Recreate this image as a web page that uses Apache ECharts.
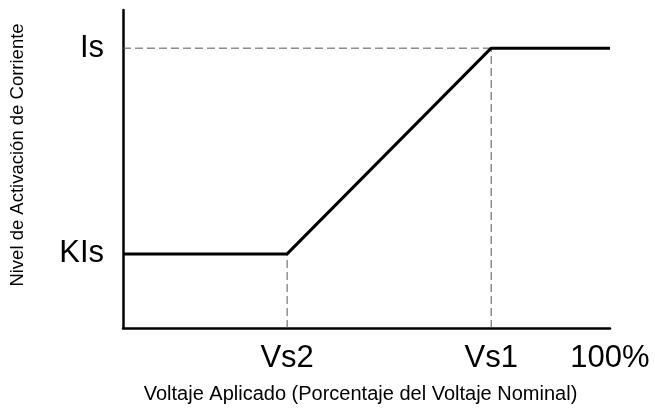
<!DOCTYPE html>
<html><head><meta charset="utf-8">
<script src="https://cdn.jsdelivr.net/npm/echarts@6/dist/echarts.min.js"></script>
<style>html,body{margin:0;padding:0;background:#fff}#c{width:655px;height:410px}</style>
</head><body><div id="c"></div>
<script>
// Data (percent of nominal voltage on x; relative pickup level on y)
const xTickValues = [33.7, 75.6, 100];
const xTickLabels = ['Vs2', 'Vs1', '100%'];
const yTickValues = [23.3, 88];
const yTickLabels = ['KIs', 'Is'];
const curveX = [0, 33.7, 75.6, 100];
const curveY = [23.3, 23.3, 88, 88];
const xName = 'Voltaje Aplicado (Porcentaje del Voltaje Nominal)';
const yName = 'Nivel de Activación de Corriente';

const curve = curveX.map((x, i) => [x, curveY[i]]);
const dashed = [
  [[0, yTickValues[1]], [xTickValues[1], yTickValues[1]]],
  [[xTickValues[0], 0], [xTickValues[0], yTickValues[0]]],
  [[xTickValues[1], 0], [xTickValues[1], yTickValues[1]]]
];
const font = 'Liberation Sans, Arial, sans-serif';
const chart = echarts.init(document.getElementById('c'), null, {renderer: 'canvas'});
const series = dashed.map(seg => ({
  type: 'line', data: seg, symbol: 'none', silent: true, z: 1,
  lineStyle: {color: '#555', width: 1, type: [8, 4]}
}));
series.push({
  type: 'line', data: curve, symbol: 'none', z: 3,
  lineStyle: {color: '#000', width: 3}
});
chart.setOption({
  animation: false,
  grid: {left: 123, top: 10, right: 45, bottom: 82, containLabel: false, outerBoundsMode: 'none'},
  xAxis: {
    type: 'value', min: 0, max: 100,
    name: xName, nameLocation: 'middle', nameGap: 56,
    nameTextStyle: {fontFamily: font, fontSize: 20, color: '#000', padding: [0, 12, 0, 0]},
    axisLine: {show: true, lineStyle: {color: '#000', width: 2.5}},
    axisTick: {show: false},
    splitLine: {show: false},
    axisLabel: {
      customValues: xTickValues, fontFamily: font, fontSize: 31, color: '#000', margin: 15,
      formatter: v => { const i = xTickValues.indexOf(v); return i >= 0 ? xTickLabels[i] : ''; }
    }
  },
  yAxis: {
    type: 'value', min: 0, max: 100,
    name: yName, nameLocation: 'middle', nameGap: 96,
    nameTextStyle: {fontFamily: font, fontSize: 18.5, color: '#000', padding: [0, 0, 0, 28]},
    axisLine: {show: true, lineStyle: {color: '#000', width: 2.5}},
    axisTick: {show: false},
    splitLine: {show: false},
    axisLabel: {
      customValues: yTickValues, fontFamily: font, fontSize: 31, color: '#000', margin: 19,
      formatter: v => { const i = yTickValues.indexOf(v); return i >= 0 ? yTickLabels[i] : ''; }
    }
  },
  series: series
});
</script></body></html>
